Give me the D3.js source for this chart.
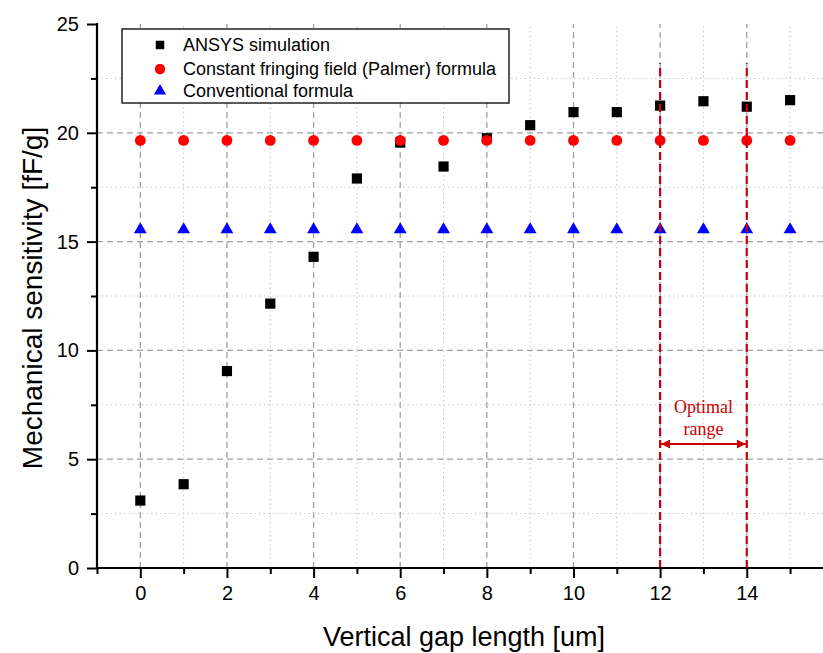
<!DOCTYPE html>
<html>
<head>
<meta charset="utf-8">
<script src="https://cdn.jsdelivr.net/npm/d3@7"></script>
<style>
  body { margin: 0; background: #fff; }
  svg { display: block; font-family: "Liberation Sans", Arial, sans-serif; }
</style>
</head>
<body>
<svg id="chart" width="823" height="653"></svg>
<script>
'use strict';

// values
var gapLength = [0, 1, 2, 3, 4, 5, 6, 7, 8, 9, 10, 11, 12, 13, 14, 15];
var ansysSim = [3.1, 3.85, 9.05, 12.15, 14.3, 17.9, 19.55, 18.45, 19.75, 20.35, 20.95, 20.95, 21.25, 21.45, 21.2, 21.5];
var palmerFormula = [19.65, 19.65, 19.65, 19.65, 19.65, 19.65, 19.65, 19.65, 19.65, 19.65, 19.65, 19.65, 19.65, 19.65, 19.65, 19.65];
var conventionalFormula = [15.55, 15.55, 15.55, 15.55, 15.55, 15.55, 15.55, 15.55, 15.55, 15.55, 15.55, 15.55, 15.55, 15.55, 15.55, 15.55];
var xMajorTicks = [0, 2, 4, 6, 8, 10, 12, 14];
var xMinorTicks = [-1, 1, 3, 5, 7, 9, 11, 13, 15];
var yMajorTicks = [0, 5, 10, 15, 20, 25];
var yMinorTicks = [2.5, 7.5, 12.5, 17.5, 22.5];
var optimalRange = [12, 14];
var legendLabels = ["ANSYS simulation", "Constant fringing field (Palmer) formula", "Conventional formula"];

var svg = d3.select("#chart");

var x = d3.scaleLinear().domain([-1, 15.76]).range([97, 823]);
var y = d3.scaleLinear().domain([0, 25]).range([568, 24]);

// grid
var grid = svg.append("g");
grid.selectAll(".vminor").data(xMinorTicks.filter(function(d){ return d > -1; }))
  .enter().append("line")
    .attr("x1", function(d){ return x(d); }).attr("x2", function(d){ return x(d); })
    .attr("y1", y(0)).attr("y2", y(25))
    .attr("stroke", "#c4c4c4").attr("stroke-width", 1).attr("stroke-dasharray", "1.5,3");
grid.selectAll(".vmajor").data(xMajorTicks)
  .enter().append("line")
    .attr("x1", function(d){ return x(d); }).attr("x2", function(d){ return x(d); })
    .attr("y1", y(0)).attr("y2", y(25))
    .attr("stroke", "#a0a0a0").attr("stroke-width", 1.3).attr("stroke-dasharray", "6,4");
grid.selectAll(".hminor").data(yMinorTicks)
  .enter().append("line")
    .attr("x1", x(-1)).attr("x2", 823)
    .attr("y1", function(d){ return y(d); }).attr("y2", function(d){ return y(d); })
    .attr("stroke", "#c4c4c4").attr("stroke-width", 1).attr("stroke-dasharray", "1.5,3");
grid.selectAll(".hmajor").data(yMajorTicks.filter(function(d){ return d > 0 && d < 25; }))
  .enter().append("line")
    .attr("x1", x(-1)).attr("x2", 823)
    .attr("y1", function(d){ return y(d); }).attr("y2", function(d){ return y(d); })
    .attr("stroke", "#a0a0a0").attr("stroke-width", 1.3).attr("stroke-dasharray", "6,4");

// series
var pts = svg.append("g");
var sq = d3.symbol().type(d3.symbolSquare).size(104);
var tri = d3.symbol().type(d3.symbolTriangle).size(72);

pts.selectAll(".ansys").data(gapLength)
  .enter().append("path")
    .attr("d", sq)
    .attr("transform", function(d, i){ return "translate(" + x(d) + "," + y(ansysSim[i]) + ")"; })
    .attr("fill", "#000");

pts.selectAll(".conv").data(gapLength)
  .enter().append("path")
    .attr("d", tri)
    .attr("transform", function(d, i){ return "translate(" + x(d) + "," + y(conventionalFormula[i]) + ")"; })
    .attr("fill", "#0000ff");

pts.selectAll(".palmer").data(gapLength)
  .enter().append("circle")
    .attr("cx", function(d){ return x(d); })
    .attr("cy", function(d, i){ return y(palmerFormula[i]); })
    .attr("r", 5.4)
    .attr("fill", "#ff0000");

// optimal range markers
svg.append("g").selectAll("line").data(optimalRange)
  .enter().append("line")
    .attr("x1", function(d){ return x(d); }).attr("x2", function(d){ return x(d); })
    .attr("y1", y(0)).attr("y2", y(23.2))
    .attr("stroke", "#cc0000").attr("stroke-width", 2.2).attr("stroke-dasharray", "8,4");

var defs = svg.append("defs");
["start", "end"].forEach(function(k){
  defs.append("marker")
    .attr("id", "arrow-" + k)
    .attr("viewBox", "0 0 10 10")
    .attr("refX", k == "end" ? 10 : 0).attr("refY", 5)
    .attr("markerWidth", 4.5).attr("markerHeight", 4.5)
    .attr("orient", "auto")
    .append("path")
      .attr("d", k == "end" ? "M0,0L10,5L0,10Z" : "M10,0L0,5L10,10Z")
      .attr("fill", "#cc0000");
});

svg.append("line")
  .attr("x1", x(optimalRange[0]) + 1).attr("x2", x(optimalRange[1]) - 1)
  .attr("y1", 444).attr("y2", 444)
  .attr("stroke", "#cc0000").attr("stroke-width", 2)
  .attr("marker-start", "url(#arrow-start)")
  .attr("marker-end", "url(#arrow-end)");

var optText = svg.append("text")
  .attr("text-anchor", "middle")
  .attr("font-family", "'Liberation Serif', 'Times New Roman', serif")
  .attr("font-size", 18)
  .attr("fill", "#cc0000");
optText.append("tspan").attr("x", x(13)).attr("y", 413).text("Optimal");
optText.append("tspan").attr("x", x(13)).attr("y", 435).text("range");

// axes
var xAxis = svg.append("g").attr("transform", "translate(0," + y(0) + ")");
xAxis.call(d3.axisBottom(x).tickValues(xMajorTicks).tickSize(10).tickPadding(8).tickFormat(d3.format("d")));
xAxis.append("g").call(d3.axisBottom(x).tickValues(xMinorTicks).tickSize(6).tickFormat(""));
xAxis.selectAll(".domain").remove();
xAxis.append("line").attr("x1", x(-1) - 1).attr("x2", 823).attr("y1", 0).attr("y2", 0)
  .attr("stroke", "#000").attr("stroke-width", 2.2);

var yAxis = svg.append("g").attr("transform", "translate(" + x(-1) + ",0)");
yAxis.call(d3.axisLeft(y).tickValues(yMajorTicks).tickSize(10).tickPadding(8).tickFormat(d3.format("d")));
yAxis.append("g").call(d3.axisLeft(y).tickValues(yMinorTicks).tickSize(6).tickFormat(""));
yAxis.selectAll(".domain").remove();
yAxis.append("line").attr("x1", 0).attr("x2", 0).attr("y1", y(25) - 1).attr("y2", y(0) + 1)
  .attr("stroke", "#000").attr("stroke-width", 2.2);

svg.selectAll(".tick line").attr("stroke", "#000").attr("stroke-width", 2);
svg.selectAll(".tick text").attr("font-size", 20).attr("fill", "#000")
  .attr("font-family", "'Liberation Sans', Arial, sans-serif");

svg.append("text")
  .attr("x", 464).attr("y", 646)
  .attr("text-anchor", "middle")
  .attr("font-size", 27)
  .text("Vertical gap length [um]");

svg.append("text")
  .attr("transform", "translate(42,298) rotate(-90)")
  .attr("text-anchor", "middle")
  .attr("font-size", 28)
  .text("Mechanical sensitivity [fF/g]");

// legend
var legend = svg.append("g");
legend.append("rect")
  .attr("x", 122).attr("y", 29).attr("width", 387).attr("height", 74)
  .attr("fill", "#fff").attr("stroke", "#000").attr("stroke-width", 1.3);

var rowY = [45, 69, 91];
legend.append("path").attr("d", d3.symbol().type(d3.symbolSquare).size(72))
  .attr("transform", "translate(160," + rowY[0] + ")").attr("fill", "#000");
legend.append("circle").attr("cx", 160).attr("cy", rowY[1]).attr("r", 5.2).attr("fill", "#ff0000");
legend.append("path").attr("d", d3.symbol().type(d3.symbolTriangle).size(64))
  .attr("transform", "translate(160," + rowY[2] + ")").attr("fill", "#0000ff");

legend.selectAll(".lbl").data(legendLabels)
  .enter().append("text")
    .attr("x", 183)
    .attr("y", function(d, i){ return rowY[i]; })
    .attr("dy", "0.36em")
    .attr("font-size", 18)
    .text(function(d){ return d; });
</script>
</body>
</html>
